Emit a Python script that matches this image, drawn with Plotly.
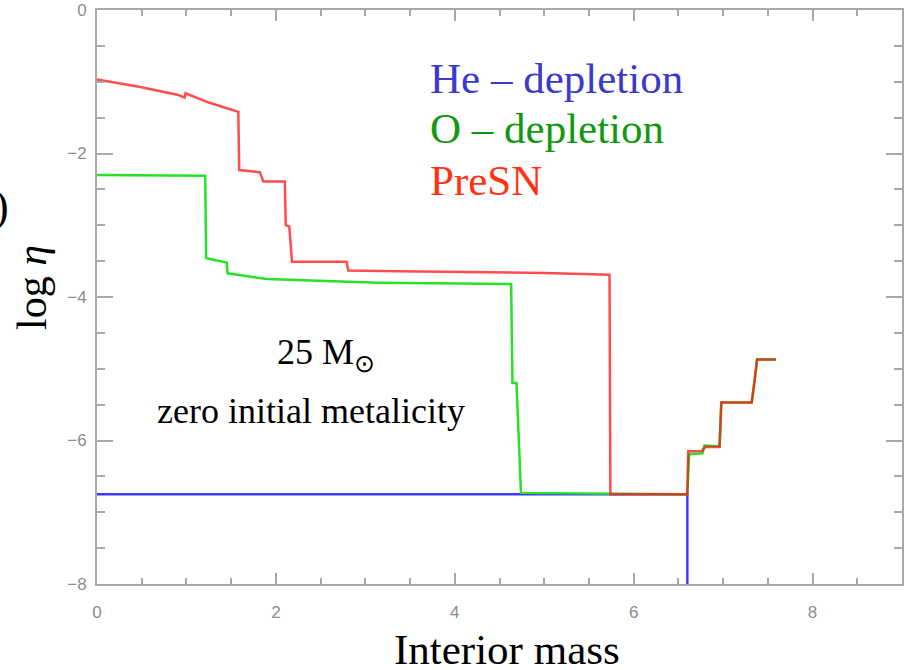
import plotly.graph_objects as go

# ---- data ----
he_x = [0.0, 6.60, 6.60]
he_y = [-6.75, -6.75, -8.0]

o_x = [0.0, 1.21, 1.22, 1.45, 1.46, 1.90, 3.14, 4.63, 4.645, 4.69, 4.74,
       5.74, 6.60, 6.62, 6.77, 6.79, 6.96, 6.98, 7.32, 7.35, 7.38, 7.59]
o_y = [-2.30, -2.31, -3.46, -3.52, -3.67, -3.75, -3.80, -3.82, -5.20, -5.20, -6.73,
       -6.74, -6.75, -6.19, -6.18, -6.07, -6.08, -5.47, -5.47, -5.20, -4.87, -4.87]

sn_x = [0.0, 0.47, 0.91, 0.98, 0.99, 1.25, 1.58, 1.59, 1.82, 1.86, 2.10, 2.11,
        2.15, 2.18, 2.79, 2.81, 3.37, 5.00, 5.73, 5.74, 6.60, 6.61, 6.76,
        6.80, 6.96, 6.98, 7.32, 7.35, 7.38, 7.59]
sn_y = [-0.97, -1.07, -1.185, -1.22, -1.16, -1.29, -1.42, -2.23, -2.26, -2.39, -2.39, -3.00,
        -3.02, -3.51, -3.51, -3.63, -3.64, -3.665, -3.69, -6.75, -6.75, -6.15, -6.15,
        -6.09, -6.09, -5.47, -5.47, -5.20, -4.87, -4.87]

x_ticks = [0, 2, 4, 6, 8]
y_ticks = [-8, -6, -4, -2, 0]

x_title = "Interior mass"
y_title = "log <i>η</i>"

# ---- figure ----
W, H = 909, 670
L, R, T, B = 97, 7, 10, 86


def px(x):
    return (x - L) / (W - L - R)


def py(y):
    return 1 - (y - T) / (H - T - B)


fig = go.Figure()
fig.add_trace(go.Scatter(x=he_x, y=he_y, mode="lines", name="He – depletion",
                         line=dict(color="rgb(60,60,255)", width=2.5)))
fig.add_trace(go.Scatter(x=o_x, y=o_y, mode="lines", name="O – depletion",
                         line=dict(color="rgb(40,225,40)", width=2.5)))
fig.add_trace(go.Scatter(x=sn_x, y=sn_y, mode="lines", name="PreSN",
                         line=dict(color="rgba(255,20,20,0.76)", width=2.5)))

axis_common = dict(
    showgrid=False, zeroline=False, showline=True, linecolor="#a8a8a8", linewidth=2,
    mirror="ticks", ticks="inside", tickcolor="#a8a8a8", tickwidth=1.5, automargin=False,
    tickfont=dict(family="Liberation Sans", size=17, color="#8c8c8c"),
)

fig.update_xaxes(range=[0, 9], tickvals=x_ticks, ticklen=11, ticklabelstandoff=12,
                 minor=dict(dtick=0.5, ticks="inside", ticklen=6, tickcolor="#a8a8a8", tickwidth=1.5),
                 **axis_common)
fig.update_yaxes(range=[-8, 0], tickvals=y_ticks, ticklen=16, ticklabelstandoff=5,
                 minor=dict(dtick=0.5, ticks="inside", ticklen=8, tickcolor="#a8a8a8", tickwidth=1.5),
                 **axis_common)

serif = "Liberation Serif"
ann = [
    # axis titles
    dict(text=x_title, x=px(507), y=py(649), xanchor="center", yanchor="middle",
         font=dict(family=serif, size=43, color="black")),
    dict(text=y_title, x=px(32), y=py(288), xanchor="center", yanchor="middle", textangle=-90,
         font=dict(family=serif, size=42, color="black")),
    # series labels
    dict(text="He – depletion", x=px(428), y=py(78), xanchor="left", yanchor="middle",
         font=dict(family=serif, size=43, color="#3a3acc")),
    dict(text="O – depletion", x=px(428), y=py(129), xanchor="left", yanchor="middle",
         font=dict(family=serif, size=43, color="#119911")),
    dict(text="PreSN", x=px(428), y=py(180), xanchor="left", yanchor="middle",
         font=dict(family=serif, size=43, color="#ff3311")),
    # notes
    dict(text="25 M<sub>⊙</sub>", x=px(326), y=py(355), xanchor="center", yanchor="middle",
         font=dict(family=serif, size=36, color="black")),
    dict(text="zero initial metalicity", x=px(311), y=py(411), xanchor="center", yanchor="middle",
         font=dict(family=serif, size=36, color="black")),
    dict(text=")", x=px(11), y=py(207), xanchor="right", yanchor="middle",
         font=dict(family=serif, size=44, color="black")),
]
for a in ann:
    a.update(xref="paper", yref="paper", showarrow=False)

fig.update_layout(
    width=W, height=H, margin=dict(l=L, r=R, t=T, b=B, autoexpand=False),
    paper_bgcolor="white", plot_bgcolor="white", showlegend=False,
    annotations=ann,
)

fig.write_html("out.html", config={"displayModeBar": False},
               post_script="document.body.style.margin='0';")
